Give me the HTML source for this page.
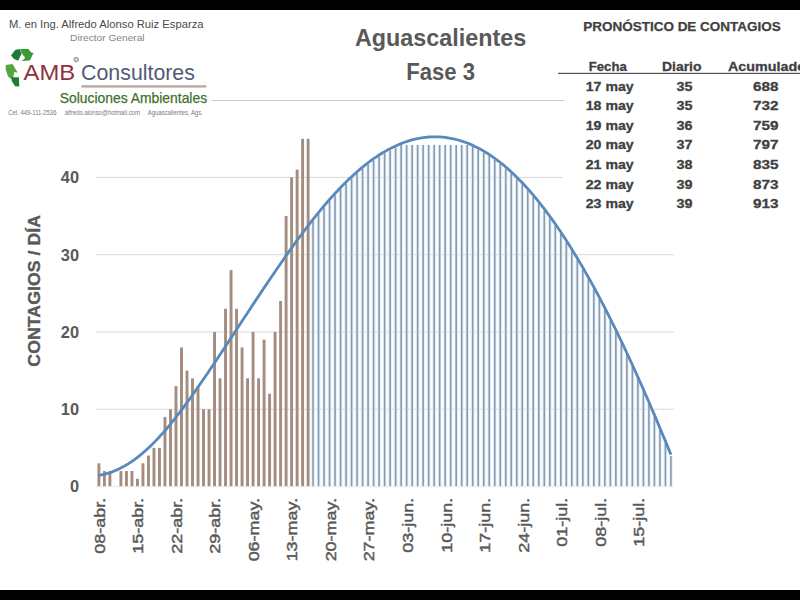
<!DOCTYPE html>
<html><head><meta charset="utf-8">
<style>
html,body{margin:0;padding:0;background:#fff;}
body{width:800px;height:600px;overflow:hidden;position:relative;}
svg{position:absolute;left:0;top:0;font-family:"Liberation Sans",sans-serif;}
</style></head><body>
<svg width="800" height="600" viewBox="0 0 800 600">
<rect x="0" y="0" width="800" height="600" fill="#fff"/>
<rect x="95.5" y="408.73" width="578.5" height="1" fill="#d9d9d9"/><rect x="95.5" y="331.46" width="578.5" height="1" fill="#d9d9d9"/><rect x="95.5" y="254.19" width="578.5" height="1" fill="#d9d9d9"/><rect x="95.5" y="176.92" width="467.0" height="1" fill="#d9d9d9"/><rect x="95.5" y="486.20" width="578.5" height="1" fill="#ececec"/><rect x="97.45" y="463.32" width="2.9" height="22.88" fill="#a48c7e"/><rect x="102.96" y="471.05" width="2.9" height="15.15" fill="#a48c7e"/><rect x="108.46" y="471.05" width="2.9" height="15.15" fill="#a48c7e"/><rect x="119.47" y="471.05" width="2.9" height="15.15" fill="#a48c7e"/><rect x="124.98" y="471.05" width="2.9" height="15.15" fill="#a48c7e"/><rect x="130.49" y="471.05" width="2.9" height="15.15" fill="#a48c7e"/><rect x="135.99" y="478.77" width="2.9" height="7.43" fill="#a48c7e"/><rect x="141.50" y="463.32" width="2.9" height="22.88" fill="#a48c7e"/><rect x="147.00" y="455.59" width="2.9" height="30.61" fill="#a48c7e"/><rect x="152.51" y="447.87" width="2.9" height="38.34" fill="#a48c7e"/><rect x="158.02" y="447.87" width="2.9" height="38.34" fill="#a48c7e"/><rect x="163.52" y="416.96" width="2.9" height="69.24" fill="#a48c7e"/><rect x="169.03" y="409.23" width="2.9" height="76.97" fill="#a48c7e"/><rect x="174.53" y="386.05" width="2.9" height="100.15" fill="#a48c7e"/><rect x="180.04" y="347.41" width="2.9" height="138.79" fill="#a48c7e"/><rect x="185.55" y="370.60" width="2.9" height="115.61" fill="#a48c7e"/><rect x="191.05" y="378.32" width="2.9" height="107.88" fill="#a48c7e"/><rect x="196.56" y="386.05" width="2.9" height="100.15" fill="#a48c7e"/><rect x="202.06" y="409.23" width="2.9" height="76.97" fill="#a48c7e"/><rect x="207.57" y="409.23" width="2.9" height="76.97" fill="#a48c7e"/><rect x="213.08" y="331.96" width="2.9" height="154.24" fill="#a48c7e"/><rect x="218.58" y="378.32" width="2.9" height="107.88" fill="#a48c7e"/><rect x="224.09" y="308.78" width="2.9" height="177.42" fill="#a48c7e"/><rect x="229.59" y="270.14" width="2.9" height="216.06" fill="#a48c7e"/><rect x="235.10" y="308.78" width="2.9" height="177.42" fill="#a48c7e"/><rect x="240.61" y="347.41" width="2.9" height="138.79" fill="#a48c7e"/><rect x="246.11" y="378.32" width="2.9" height="107.88" fill="#a48c7e"/><rect x="251.62" y="331.96" width="2.9" height="154.24" fill="#a48c7e"/><rect x="257.12" y="378.32" width="2.9" height="107.88" fill="#a48c7e"/><rect x="262.63" y="339.69" width="2.9" height="146.51" fill="#a48c7e"/><rect x="268.14" y="393.78" width="2.9" height="92.42" fill="#a48c7e"/><rect x="273.64" y="331.96" width="2.9" height="154.24" fill="#a48c7e"/><rect x="279.15" y="301.05" width="2.9" height="185.15" fill="#a48c7e"/><rect x="284.65" y="216.06" width="2.9" height="270.14" fill="#a48c7e"/><rect x="290.16" y="177.42" width="2.9" height="308.78" fill="#a48c7e"/><rect x="295.67" y="169.69" width="2.9" height="316.51" fill="#a48c7e"/><rect x="301.17" y="138.78" width="2.9" height="347.42" fill="#a48c7e"/><rect x="306.68" y="138.78" width="2.9" height="347.42" fill="#a48c7e"/><rect x="311.13" y="220.96" width="3.8" height="265.24" fill="#e6f0f8"/><rect x="312.23" y="220.96" width="1.6" height="265.24" fill="#879bb0"/><rect x="316.64" y="214.10" width="3.8" height="272.10" fill="#e6f0f8"/><rect x="317.74" y="214.10" width="1.6" height="272.10" fill="#879bb0"/><rect x="322.15" y="207.47" width="3.8" height="278.73" fill="#e6f0f8"/><rect x="323.25" y="207.47" width="1.6" height="278.73" fill="#879bb0"/><rect x="327.65" y="201.08" width="3.8" height="285.12" fill="#e6f0f8"/><rect x="328.75" y="201.08" width="1.6" height="285.12" fill="#879bb0"/><rect x="333.16" y="194.95" width="3.8" height="291.25" fill="#e6f0f8"/><rect x="334.26" y="194.95" width="1.6" height="291.25" fill="#879bb0"/><rect x="338.66" y="189.09" width="3.8" height="297.11" fill="#e6f0f8"/><rect x="339.76" y="189.09" width="1.6" height="297.11" fill="#879bb0"/><rect x="344.17" y="183.51" width="3.8" height="302.69" fill="#e6f0f8"/><rect x="345.27" y="183.51" width="1.6" height="302.69" fill="#879bb0"/><rect x="349.68" y="178.24" width="3.8" height="307.96" fill="#e6f0f8"/><rect x="350.78" y="178.24" width="1.6" height="307.96" fill="#879bb0"/><rect x="355.18" y="173.28" width="3.8" height="312.92" fill="#e6f0f8"/><rect x="356.28" y="173.28" width="1.6" height="312.92" fill="#879bb0"/><rect x="360.69" y="168.62" width="3.8" height="317.58" fill="#e6f0f8"/><rect x="361.79" y="168.62" width="1.6" height="317.58" fill="#879bb0"/><rect x="366.19" y="164.29" width="3.8" height="321.91" fill="#e6f0f8"/><rect x="367.29" y="164.29" width="1.6" height="321.91" fill="#879bb0"/><rect x="371.70" y="160.27" width="3.8" height="325.93" fill="#e6f0f8"/><rect x="372.80" y="160.27" width="1.6" height="325.93" fill="#879bb0"/><rect x="377.21" y="156.57" width="3.8" height="329.63" fill="#e6f0f8"/><rect x="378.31" y="156.57" width="1.6" height="329.63" fill="#879bb0"/><rect x="382.71" y="153.21" width="3.8" height="332.99" fill="#e6f0f8"/><rect x="383.81" y="153.21" width="1.6" height="332.99" fill="#879bb0"/><rect x="388.22" y="150.17" width="3.8" height="336.03" fill="#e6f0f8"/><rect x="389.32" y="150.17" width="1.6" height="336.03" fill="#879bb0"/><rect x="393.72" y="147.47" width="3.8" height="338.73" fill="#e6f0f8"/><rect x="394.82" y="147.47" width="1.6" height="338.73" fill="#879bb0"/><rect x="399.23" y="145.11" width="3.8" height="341.09" fill="#e6f0f8"/><rect x="400.33" y="145.11" width="1.6" height="341.09" fill="#879bb0"/><rect x="404.74" y="144.97" width="3.8" height="341.23" fill="#e6f0f8"/><rect x="405.84" y="144.97" width="1.6" height="341.23" fill="#879bb0"/><rect x="410.24" y="144.97" width="3.8" height="341.23" fill="#e6f0f8"/><rect x="411.34" y="144.97" width="1.6" height="341.23" fill="#879bb0"/><rect x="415.75" y="144.97" width="3.8" height="341.23" fill="#e6f0f8"/><rect x="416.85" y="144.97" width="1.6" height="341.23" fill="#879bb0"/><rect x="421.25" y="144.97" width="3.8" height="341.23" fill="#e6f0f8"/><rect x="422.35" y="144.97" width="1.6" height="341.23" fill="#879bb0"/><rect x="426.76" y="144.97" width="3.8" height="341.23" fill="#e6f0f8"/><rect x="427.86" y="144.97" width="1.6" height="341.23" fill="#879bb0"/><rect x="432.27" y="144.97" width="3.8" height="341.23" fill="#e6f0f8"/><rect x="433.37" y="144.97" width="1.6" height="341.23" fill="#879bb0"/><rect x="437.77" y="144.97" width="3.8" height="341.23" fill="#e6f0f8"/><rect x="438.87" y="144.97" width="1.6" height="341.23" fill="#879bb0"/><rect x="443.28" y="144.97" width="3.8" height="341.23" fill="#e6f0f8"/><rect x="444.38" y="144.97" width="1.6" height="341.23" fill="#879bb0"/><rect x="448.78" y="144.97" width="3.8" height="341.23" fill="#e6f0f8"/><rect x="449.88" y="144.97" width="1.6" height="341.23" fill="#879bb0"/><rect x="454.29" y="144.97" width="3.8" height="341.23" fill="#e6f0f8"/><rect x="455.39" y="144.97" width="1.6" height="341.23" fill="#879bb0"/><rect x="459.80" y="144.97" width="3.8" height="341.23" fill="#e6f0f8"/><rect x="460.90" y="144.97" width="1.6" height="341.23" fill="#879bb0"/><rect x="465.30" y="144.97" width="3.8" height="341.23" fill="#e6f0f8"/><rect x="466.40" y="144.97" width="1.6" height="341.23" fill="#879bb0"/><rect x="470.81" y="146.90" width="3.8" height="339.30" fill="#e6f0f8"/><rect x="471.91" y="146.90" width="1.6" height="339.30" fill="#879bb0"/><rect x="476.31" y="149.59" width="3.8" height="336.61" fill="#e6f0f8"/><rect x="477.41" y="149.59" width="1.6" height="336.61" fill="#879bb0"/><rect x="481.82" y="152.65" width="3.8" height="333.55" fill="#e6f0f8"/><rect x="482.92" y="152.65" width="1.6" height="333.55" fill="#879bb0"/><rect x="487.33" y="156.08" width="3.8" height="330.12" fill="#e6f0f8"/><rect x="488.43" y="156.08" width="1.6" height="330.12" fill="#879bb0"/><rect x="492.83" y="159.87" width="3.8" height="326.33" fill="#e6f0f8"/><rect x="493.93" y="159.87" width="1.6" height="326.33" fill="#879bb0"/><rect x="498.34" y="164.03" width="3.8" height="322.17" fill="#e6f0f8"/><rect x="499.44" y="164.03" width="1.6" height="322.17" fill="#879bb0"/><rect x="503.84" y="168.56" width="3.8" height="317.64" fill="#e6f0f8"/><rect x="504.94" y="168.56" width="1.6" height="317.64" fill="#879bb0"/><rect x="509.35" y="173.46" width="3.8" height="312.74" fill="#e6f0f8"/><rect x="510.45" y="173.46" width="1.6" height="312.74" fill="#879bb0"/><rect x="514.86" y="178.73" width="3.8" height="307.47" fill="#e6f0f8"/><rect x="515.96" y="178.73" width="1.6" height="307.47" fill="#879bb0"/><rect x="520.36" y="184.36" width="3.8" height="301.84" fill="#e6f0f8"/><rect x="521.46" y="184.36" width="1.6" height="301.84" fill="#879bb0"/><rect x="525.87" y="190.36" width="3.8" height="295.84" fill="#e6f0f8"/><rect x="526.97" y="190.36" width="1.6" height="295.84" fill="#879bb0"/><rect x="531.37" y="196.70" width="3.8" height="289.50" fill="#e6f0f8"/><rect x="532.47" y="196.70" width="1.6" height="289.50" fill="#879bb0"/><rect x="536.88" y="203.40" width="3.8" height="282.80" fill="#e6f0f8"/><rect x="537.98" y="203.40" width="1.6" height="282.80" fill="#879bb0"/><rect x="542.39" y="210.45" width="3.8" height="275.75" fill="#e6f0f8"/><rect x="543.49" y="210.45" width="1.6" height="275.75" fill="#879bb0"/><rect x="547.89" y="217.84" width="3.8" height="268.36" fill="#e6f0f8"/><rect x="548.99" y="217.84" width="1.6" height="268.36" fill="#879bb0"/><rect x="553.40" y="225.57" width="3.8" height="260.63" fill="#e6f0f8"/><rect x="554.50" y="225.57" width="1.6" height="260.63" fill="#879bb0"/><rect x="558.90" y="233.63" width="3.8" height="252.57" fill="#e6f0f8"/><rect x="560.00" y="233.63" width="1.6" height="252.57" fill="#879bb0"/><rect x="564.41" y="242.01" width="3.8" height="244.19" fill="#e6f0f8"/><rect x="565.51" y="242.01" width="1.6" height="244.19" fill="#879bb0"/><rect x="569.92" y="250.73" width="3.8" height="235.47" fill="#e6f0f8"/><rect x="571.02" y="250.73" width="1.6" height="235.47" fill="#879bb0"/><rect x="575.42" y="259.76" width="3.8" height="226.44" fill="#e6f0f8"/><rect x="576.52" y="259.76" width="1.6" height="226.44" fill="#879bb0"/><rect x="580.93" y="269.11" width="3.8" height="217.09" fill="#e6f0f8"/><rect x="582.03" y="269.11" width="1.6" height="217.09" fill="#879bb0"/><rect x="586.43" y="278.76" width="3.8" height="207.44" fill="#e6f0f8"/><rect x="587.53" y="278.76" width="1.6" height="207.44" fill="#879bb0"/><rect x="591.94" y="288.73" width="3.8" height="197.47" fill="#e6f0f8"/><rect x="593.04" y="288.73" width="1.6" height="197.47" fill="#879bb0"/><rect x="597.45" y="298.99" width="3.8" height="187.21" fill="#e6f0f8"/><rect x="598.55" y="298.99" width="1.6" height="187.21" fill="#879bb0"/><rect x="602.95" y="309.55" width="3.8" height="176.65" fill="#e6f0f8"/><rect x="604.05" y="309.55" width="1.6" height="176.65" fill="#879bb0"/><rect x="608.46" y="320.40" width="3.8" height="165.80" fill="#e6f0f8"/><rect x="609.56" y="320.40" width="1.6" height="165.80" fill="#879bb0"/><rect x="613.96" y="331.52" width="3.8" height="154.68" fill="#e6f0f8"/><rect x="615.06" y="331.52" width="1.6" height="154.68" fill="#879bb0"/><rect x="619.47" y="342.91" width="3.8" height="143.29" fill="#e6f0f8"/><rect x="620.57" y="342.91" width="1.6" height="143.29" fill="#879bb0"/><rect x="624.98" y="354.56" width="3.8" height="131.64" fill="#e6f0f8"/><rect x="626.08" y="354.56" width="1.6" height="131.64" fill="#879bb0"/><rect x="630.48" y="366.46" width="3.8" height="119.74" fill="#e6f0f8"/><rect x="631.58" y="366.46" width="1.6" height="119.74" fill="#879bb0"/><rect x="635.99" y="378.61" width="3.8" height="107.59" fill="#e6f0f8"/><rect x="637.09" y="378.61" width="1.6" height="107.59" fill="#879bb0"/><rect x="641.49" y="390.99" width="3.8" height="95.21" fill="#e6f0f8"/><rect x="642.59" y="390.99" width="1.6" height="95.21" fill="#879bb0"/><rect x="647.00" y="403.60" width="3.8" height="82.60" fill="#e6f0f8"/><rect x="648.10" y="403.60" width="1.6" height="82.60" fill="#879bb0"/><rect x="652.51" y="416.43" width="3.8" height="69.77" fill="#e6f0f8"/><rect x="653.61" y="416.43" width="1.6" height="69.77" fill="#879bb0"/><rect x="658.01" y="429.47" width="3.8" height="56.73" fill="#e6f0f8"/><rect x="659.11" y="429.47" width="1.6" height="56.73" fill="#879bb0"/><rect x="663.52" y="442.71" width="3.8" height="43.49" fill="#e6f0f8"/><rect x="664.62" y="442.71" width="1.6" height="43.49" fill="#879bb0"/><rect x="669.02" y="456.15" width="3.8" height="30.05" fill="#e6f0f8"/><rect x="670.12" y="456.15" width="1.6" height="30.05" fill="#879bb0"/><polyline fill="none" stroke="#5889bd" stroke-width="2.8" stroke-linejoin="round" points="98.30,475.30 101.05,474.88 103.81,474.32 106.56,473.63 109.31,472.82 112.06,471.87 114.82,470.80 117.57,469.61 120.32,468.29 123.08,466.85 125.83,465.28 128.58,463.60 131.34,461.79 134.09,459.87 136.84,457.83 139.59,455.68 142.35,453.41 145.10,451.02 147.85,448.53 150.61,445.92 153.36,443.21 156.11,440.39 158.87,437.46 161.62,434.43 164.37,431.31 167.12,428.10 169.88,424.80 172.63,421.42 175.38,417.96 178.14,414.42 180.89,410.82 183.64,407.15 186.40,403.42 189.15,399.63 191.90,395.80 194.66,391.91 197.41,387.98 200.16,384.01 202.91,380.01 205.67,375.98 208.42,371.91 211.17,367.83 213.93,363.73 216.68,359.61 219.43,355.47 222.19,351.32 224.94,347.16 227.69,342.99 230.44,338.81 233.20,334.62 235.95,330.43 238.70,326.24 241.46,322.04 244.21,317.85 246.96,313.66 249.72,309.48 252.47,305.31 255.22,301.14 257.97,296.99 260.73,292.85 263.48,288.73 266.23,284.62 268.99,280.54 271.74,276.47 274.49,272.43 277.25,268.42 280.00,264.43 282.75,260.47 285.50,256.54 288.26,252.65 291.01,248.79 293.76,244.97 296.52,241.19 299.27,237.44 302.02,233.74 304.78,230.09 307.53,226.48 310.28,222.92 313.03,219.41 315.79,215.96 318.54,212.56 321.29,209.21 324.05,205.93 326.80,202.70 329.55,199.54 332.31,196.44 335.06,193.40 337.81,190.44 340.56,187.54 343.32,184.72 346.07,181.97 348.82,179.29 351.58,176.70 354.33,174.18 357.08,171.73 359.84,169.37 362.59,167.08 365.34,164.87 368.09,162.74 370.85,160.69 373.60,158.72 376.35,156.83 379.11,155.03 381.86,153.30 384.61,151.66 387.37,150.10 390.12,148.63 392.87,147.23 395.62,145.93 398.38,144.70 401.13,143.57 403.88,142.52 406.64,141.55 409.39,140.67 412.14,139.88 414.90,139.18 417.65,138.57 420.40,138.04 423.15,137.61 425.91,137.27 428.66,137.01 431.41,136.85 434.17,136.78 436.92,136.79 439.67,136.91 442.43,137.11 445.18,137.40 447.93,137.78 450.68,138.26 453.44,138.83 456.19,139.48 458.94,140.23 461.70,141.08 464.45,142.01 467.20,143.03 469.96,144.15 472.71,145.36 475.46,146.66 478.21,148.05 480.97,149.53 483.72,151.11 486.47,152.77 489.23,154.53 491.98,156.38 494.73,158.33 497.49,160.36 500.24,162.49 502.99,164.71 505.74,167.02 508.50,169.42 511.25,171.92 514.00,174.51 516.76,177.19 519.51,179.96 522.26,182.82 525.01,185.77 527.77,188.81 530.52,191.94 533.27,195.16 536.03,198.47 538.78,201.86 541.53,205.34 544.29,208.91 547.04,212.56 549.79,216.29 552.54,220.12 555.30,224.02 558.05,228.01 560.80,232.08 563.56,236.23 566.31,240.47 569.06,244.78 571.82,249.18 574.57,253.66 577.32,258.21 580.08,262.85 582.83,267.56 585.58,272.35 588.33,277.22 591.09,282.16 593.84,287.18 596.59,292.28 599.35,297.45 602.10,302.69 604.85,308.01 607.61,313.39 610.36,318.85 613.11,324.38 615.86,329.97 618.62,335.63 621.37,341.36 624.12,347.15 626.88,353.01 629.63,358.93 632.38,364.91 635.13,370.96 637.89,377.06 640.64,383.22 643.39,389.44 646.15,395.72 648.90,402.05 651.65,408.44 654.41,414.88 657.16,421.38 659.91,427.92 662.66,434.52 665.42,441.16 668.17,447.86 670.92,454.60"/><text x="79" y="492.4" font-size="16.4" font-weight="bold" fill="#595959" text-anchor="end">0</text><text x="79" y="415.1" font-size="16.4" font-weight="bold" fill="#595959" text-anchor="end">10</text><text x="79" y="337.9" font-size="16.4" font-weight="bold" fill="#595959" text-anchor="end">20</text><text x="79" y="260.6" font-size="16.4" font-weight="bold" fill="#595959" text-anchor="end">30</text><text x="79" y="183.3" font-size="16.4" font-weight="bold" fill="#595959" text-anchor="end">40</text><text transform="translate(104.6,497.8) rotate(-90) scale(1.215,1)" font-size="14.8" fill="#595959" stroke="#595959" stroke-width="0.45" text-anchor="end">08-abr.</text><text transform="translate(143.1,497.8) rotate(-90) scale(1.215,1)" font-size="14.8" fill="#595959" stroke="#595959" stroke-width="0.45" text-anchor="end">15-abr.</text><text transform="translate(181.7,497.8) rotate(-90) scale(1.215,1)" font-size="14.8" fill="#595959" stroke="#595959" stroke-width="0.45" text-anchor="end">22-abr.</text><text transform="translate(220.2,497.8) rotate(-90) scale(1.215,1)" font-size="14.8" fill="#595959" stroke="#595959" stroke-width="0.45" text-anchor="end">29-abr.</text><text transform="translate(258.8,497.8) rotate(-90) scale(1.215,1)" font-size="14.8" fill="#595959" stroke="#595959" stroke-width="0.45" text-anchor="end">06-may.</text><text transform="translate(297.3,497.8) rotate(-90) scale(1.215,1)" font-size="14.8" fill="#595959" stroke="#595959" stroke-width="0.45" text-anchor="end">13-may.</text><text transform="translate(335.9,497.8) rotate(-90) scale(1.215,1)" font-size="14.8" fill="#595959" stroke="#595959" stroke-width="0.45" text-anchor="end">20-may.</text><text transform="translate(374.4,497.8) rotate(-90) scale(1.215,1)" font-size="14.8" fill="#595959" stroke="#595959" stroke-width="0.45" text-anchor="end">27-may.</text><text transform="translate(412.9,497.8) rotate(-90) scale(1.215,1)" font-size="14.8" fill="#595959" stroke="#595959" stroke-width="0.45" text-anchor="end">03-jun.</text><text transform="translate(451.5,497.8) rotate(-90) scale(1.215,1)" font-size="14.8" fill="#595959" stroke="#595959" stroke-width="0.45" text-anchor="end">10-jun.</text><text transform="translate(490.0,497.8) rotate(-90) scale(1.215,1)" font-size="14.8" fill="#595959" stroke="#595959" stroke-width="0.45" text-anchor="end">17-jun.</text><text transform="translate(528.6,497.8) rotate(-90) scale(1.215,1)" font-size="14.8" fill="#595959" stroke="#595959" stroke-width="0.45" text-anchor="end">24-jun.</text><text transform="translate(567.1,497.8) rotate(-90) scale(1.215,1)" font-size="14.8" fill="#595959" stroke="#595959" stroke-width="0.45" text-anchor="end">01-jul.</text><text transform="translate(605.6,497.8) rotate(-90) scale(1.215,1)" font-size="14.8" fill="#595959" stroke="#595959" stroke-width="0.45" text-anchor="end">08-jul.</text><text transform="translate(644.2,497.8) rotate(-90) scale(1.215,1)" font-size="14.8" fill="#595959" stroke="#595959" stroke-width="0.45" text-anchor="end">15-jul.</text><text transform="translate(39.7,366.7) rotate(-90)" font-size="16.75" font-weight="bold" fill="#595959" stroke="#595959" stroke-width="0.35" textLength="151.7" lengthAdjust="spacingAndGlyphs">CONTAGIOS / DÍA</text>
<rect x="563" y="12" width="237" height="203" fill="#fff"/>
<text x="583.25" y="31.4" font-size="13.6" font-weight="bold" fill="#404040" text-anchor="start" textLength="197.5" lengthAdjust="spacingAndGlyphs" stroke="#404040" stroke-width="0.25">PRONÓSTICO DE CONTAGIOS</text>
<text x="588.75" y="70.8" font-size="13.2" font-weight="bold" fill="#404040" text-anchor="start" textLength="38" lengthAdjust="spacingAndGlyphs" stroke="#404040" stroke-width="0.3">Fecha</text>
<text x="662" y="70.8" font-size="13.2" font-weight="bold" fill="#404040" text-anchor="start" textLength="39.5" lengthAdjust="spacingAndGlyphs" stroke="#404040" stroke-width="0.3">Diario</text>
<text x="728" y="70.8" font-size="13.2" font-weight="bold" fill="#404040" text-anchor="start" textLength="78" lengthAdjust="spacingAndGlyphs" stroke="#404040" stroke-width="0.3">Acumulado</text>
<rect x="558" y="72.8" width="242" height="1.2" fill="#505050"/>
<text x="585.75" y="90.5" font-size="13.2" font-weight="bold" fill="#404040" text-anchor="start" textLength="48" lengthAdjust="spacingAndGlyphs" stroke="#404040" stroke-width="0.3">17 may</text><text x="676.5" y="90.5" font-size="13.4" font-weight="bold" fill="#404040" text-anchor="start" textLength="16" lengthAdjust="spacingAndGlyphs" stroke="#404040" stroke-width="0.3">35</text><text x="753" y="90.5" font-size="13.4" font-weight="bold" fill="#404040" text-anchor="start" textLength="25.5" lengthAdjust="spacingAndGlyphs" stroke="#404040" stroke-width="0.3">688</text><text x="585.75" y="110.1" font-size="13.2" font-weight="bold" fill="#404040" text-anchor="start" textLength="48" lengthAdjust="spacingAndGlyphs" stroke="#404040" stroke-width="0.3">18 may</text><text x="676.5" y="110.1" font-size="13.4" font-weight="bold" fill="#404040" text-anchor="start" textLength="16" lengthAdjust="spacingAndGlyphs" stroke="#404040" stroke-width="0.3">35</text><text x="753" y="110.1" font-size="13.4" font-weight="bold" fill="#404040" text-anchor="start" textLength="25.5" lengthAdjust="spacingAndGlyphs" stroke="#404040" stroke-width="0.3">732</text><text x="585.75" y="129.7" font-size="13.2" font-weight="bold" fill="#404040" text-anchor="start" textLength="48" lengthAdjust="spacingAndGlyphs" stroke="#404040" stroke-width="0.3">19 may</text><text x="676.5" y="129.7" font-size="13.4" font-weight="bold" fill="#404040" text-anchor="start" textLength="16" lengthAdjust="spacingAndGlyphs" stroke="#404040" stroke-width="0.3">36</text><text x="753" y="129.7" font-size="13.4" font-weight="bold" fill="#404040" text-anchor="start" textLength="25.5" lengthAdjust="spacingAndGlyphs" stroke="#404040" stroke-width="0.3">759</text><text x="585.75" y="149.3" font-size="13.2" font-weight="bold" fill="#404040" text-anchor="start" textLength="48" lengthAdjust="spacingAndGlyphs" stroke="#404040" stroke-width="0.3">20 may</text><text x="676.5" y="149.3" font-size="13.4" font-weight="bold" fill="#404040" text-anchor="start" textLength="16" lengthAdjust="spacingAndGlyphs" stroke="#404040" stroke-width="0.3">37</text><text x="753" y="149.3" font-size="13.4" font-weight="bold" fill="#404040" text-anchor="start" textLength="25.5" lengthAdjust="spacingAndGlyphs" stroke="#404040" stroke-width="0.3">797</text><text x="585.75" y="168.9" font-size="13.2" font-weight="bold" fill="#404040" text-anchor="start" textLength="48" lengthAdjust="spacingAndGlyphs" stroke="#404040" stroke-width="0.3">21 may</text><text x="676.5" y="168.9" font-size="13.4" font-weight="bold" fill="#404040" text-anchor="start" textLength="16" lengthAdjust="spacingAndGlyphs" stroke="#404040" stroke-width="0.3">38</text><text x="753" y="168.9" font-size="13.4" font-weight="bold" fill="#404040" text-anchor="start" textLength="25.5" lengthAdjust="spacingAndGlyphs" stroke="#404040" stroke-width="0.3">835</text><text x="585.75" y="188.5" font-size="13.2" font-weight="bold" fill="#404040" text-anchor="start" textLength="48" lengthAdjust="spacingAndGlyphs" stroke="#404040" stroke-width="0.3">22 may</text><text x="676.5" y="188.5" font-size="13.4" font-weight="bold" fill="#404040" text-anchor="start" textLength="16" lengthAdjust="spacingAndGlyphs" stroke="#404040" stroke-width="0.3">39</text><text x="753" y="188.5" font-size="13.4" font-weight="bold" fill="#404040" text-anchor="start" textLength="25.5" lengthAdjust="spacingAndGlyphs" stroke="#404040" stroke-width="0.3">873</text><text x="585.75" y="208.1" font-size="13.2" font-weight="bold" fill="#404040" text-anchor="start" textLength="48" lengthAdjust="spacingAndGlyphs" stroke="#404040" stroke-width="0.3">23 may</text><text x="676.5" y="208.1" font-size="13.4" font-weight="bold" fill="#404040" text-anchor="start" textLength="16" lengthAdjust="spacingAndGlyphs" stroke="#404040" stroke-width="0.3">39</text><text x="753" y="208.1" font-size="13.4" font-weight="bold" fill="#404040" text-anchor="start" textLength="25.5" lengthAdjust="spacingAndGlyphs" stroke="#404040" stroke-width="0.3">913</text>
<text x="355" y="45.75" font-size="23.7" font-weight="bold" fill="#595959" text-anchor="start" textLength="171.25" lengthAdjust="spacingAndGlyphs">Aguascalientes</text>
<text x="406.25" y="80" font-size="23.2" font-weight="bold" fill="#595959" text-anchor="start" textLength="68.75" lengthAdjust="spacingAndGlyphs">Fase 3</text>
<text x="8.9" y="28.4" font-size="11.5" font-weight="normal" fill="#4a4a4a" text-anchor="start" textLength="194.6" lengthAdjust="spacingAndGlyphs">M. en Ing. Alfredo Alonso Ruiz Esparza</text>
<text x="70.1" y="40.8" font-size="9.5" font-weight="normal" fill="#80838f" text-anchor="start" textLength="74.5" lengthAdjust="spacingAndGlyphs">Director General</text>
<g>
<polygon points="11,55.5 15.1,49.9 19.6,49.1 21.6,53.5 18.1,60.75 14,59" fill="#1e7b34"/>
<polygon points="20,49.1 28.3,49.1 31.3,52.5 33.5,52.9 29.75,60.4 21.9,61.1 25.25,57.75 22.25,54" fill="#3c9a36"/>
<polygon points="5.75,64.9 12.5,64.1 17.75,72.75 14.4,72 13.25,77.25 11.75,79.5 8,76.5 5.75,69.75" fill="#55a543"/>
<polygon points="11.75,77.25 18.9,77.25 19.25,86.6 15.1,86.25 11.75,81" fill="#1e7b34"/>
</g>
<text x="23.6" y="79.9" font-size="22.3" font-weight="normal" fill="#922f3a" text-anchor="start" textLength="51.6" lengthAdjust="spacingAndGlyphs">AMB</text>
<circle cx="76.2" cy="59.6" r="2.3" fill="#d0d0d0" stroke="#8f8f8f" stroke-width="1"/>
<text x="81.1" y="80" font-size="21.5" font-weight="normal" fill="#525a78" text-anchor="start" textLength="113.8" lengthAdjust="spacingAndGlyphs">Consultores</text>
<rect x="81.5" y="85.2" width="124.8" height="2.4" fill="#b9aaa6"/>
<text x="59.8" y="103.3" font-size="14.5" font-weight="normal" fill="#3f6f2c" text-anchor="start" textLength="147.3" lengthAdjust="spacingAndGlyphs" stroke="#3f6f2c" stroke-width="0.25">Soluciones Ambientales</text>
<rect x="212" y="100" width="352" height="1" fill="#cccccc"/>
<text x="8.25" y="115.2" font-size="6.4" font-weight="normal" fill="#7a7a7a" text-anchor="start" textLength="194.5" lengthAdjust="spacingAndGlyphs">Cel. 449-111-2536 &#160;&#160;&#160; alfredo.alonso@hotmail.com &#160;&#160;&#160; Aguascalientes, Ags.</text>
<rect x="0" y="0" width="800" height="10" fill="#000"/>
<rect x="0" y="590" width="800" height="10" fill="#000"/>
</svg>
</body></html>
